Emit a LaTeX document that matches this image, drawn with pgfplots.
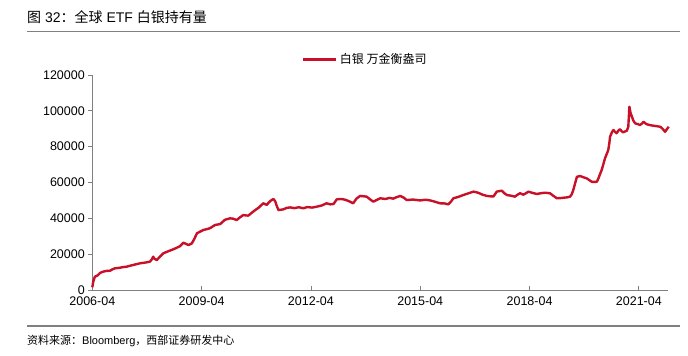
\documentclass[border=0pt]{standalone}
\usepackage{pgfplots}
\pgfplotsset{compat=1.18}
\usepackage{fontspec}
\setmainfont{Liberation Sans}
\newfontfamily\cjk{Noto Sans CJK SC}
\definecolor{silverred}{RGB}{200,16,40}
\definecolor{axgray}{RGB}{128,128,128}
\begin{document}
\begin{tikzpicture}[x=1bp,y=1bp]
\useasboundingbox (0,0) rectangle (688,355);
\node[anchor=base west, inner sep=0, font=\fontsize{14bp}{16bp}\selectfont] at (27,333) {{\cjk 图} 32{\cjk ：全球} ETF {\cjk 白银持有量}};
\draw[axgray, line width=1.2bp] (27,323.5) -- (680,323.5);
\draw[axgray, line width=1.2bp] (27,29) -- (680,29);
\node[anchor=base west, inner sep=0, font=\fontsize{11bp}{13bp}\selectfont] at (27,11) {{\cjk 资料来源：}Bloomberg{\cjk ，西部证券研发中心}};
\begin{axis}[
  at={(92.3bp,65bp)}, anchor=south west,
  width=575.7bp, height=215bp, scale only axis,
  xmin=2006.25, xmax=2022.05, ymin=0, ymax=120000,
  axis x line*=bottom, axis y line*=left,
  axis line style={axgray, line width=0.8bp},
  xtick={2006.25,2009.25,2012.25,2015.25,2018.25,2021.25},
  xticklabels={2006-04,2009-04,2012-04,2015-04,2018-04,2021-04},
  ytick={0,20000,40000,60000,80000,100000,120000},
  yticklabels={0,20000,40000,60000,80000,100000,120000},
  scaled y ticks=false,
  xtick align=inside, ytick align=outside,
  major tick length=4bp,
  tick style={axgray, line width=0.8bp},
  ticklabel style={font=\fontsize{12.5bp}{15bp}\selectfont, black},
  xticklabel style={yshift=-3bp},
  legend style={at={(0.474,1.074)}, anchor=center, draw=none, fill=none,
    font=\fontsize{12bp}{14bp}\selectfont\cjk},
  legend image code/.code={\draw[#1, line width=3bp] (0bp,0bp) -- (33bp,0bp);},
  clip=false,
]
\addplot[silverred, line width=2.4bp, line join=round] coordinates {
(2006.25,1500) (2006.28,5000) (2006.32,7400) (2006.40,8200) (2006.46,9500) (2006.54,10200)
(2006.62,10600) (2006.74,10800) (2006.80,11500) (2006.87,12100) (2007.00,12400)
(2007.10,12800) (2007.19,13000) (2007.30,13600) (2007.42,14200) (2007.56,14900)
(2007.70,15300) (2007.83,15800) (2007.88,17000) (2007.92,18600) (2007.96,17400) (2008.02,16700)
(2008.10,18500) (2008.20,20500) (2008.33,21600) (2008.47,22700) (2008.56,23500) (2008.66,24500)
(2008.75,26400) (2008.89,25100) (2008.98,26000) (2009.05,28500) (2009.12,31600) (2009.20,32500)
(2009.30,33500) (2009.40,34000) (2009.48,34500) (2009.62,36300) (2009.76,36800) (2009.89,39200)
(2010.03,40000) (2010.12,39800) (2010.21,39000) (2010.30,40500) (2010.39,41800) (2010.53,41500)
(2010.62,43000) (2010.72,44600) (2010.82,46000) (2010.94,48400) (2011.04,47500) (2011.10,49000)
(2011.17,50200) (2011.22,50800) (2011.27,49500) (2011.32,46500) (2011.36,44600) (2011.49,45000)
(2011.58,45800) (2011.68,46100) (2011.80,45700) (2011.92,46200) (2012.04,45600) (2012.15,46300)
(2012.28,46000) (2012.41,46500) (2012.55,47200) (2012.68,48400) (2012.78,47800) (2012.87,48000)
(2012.96,50600) (2013.08,50800) (2013.19,50400) (2013.30,49500) (2013.41,48400) (2013.50,51000)
(2013.60,52500) (2013.70,52300) (2013.78,52100) (2013.88,50500) (2013.96,49300) (2014.05,50200)
(2014.15,51200) (2014.30,50800) (2014.40,51400) (2014.51,51000) (2014.60,51800) (2014.70,52500)
(2014.80,51500) (2014.88,50200) (2015.05,50500) (2015.25,50000) (2015.40,50400) (2015.52,50000)
(2015.65,49300) (2015.79,48400) (2015.92,48300) (2016.02,47800) (2016.10,49500) (2016.16,51200)
(2016.30,52000) (2016.43,53000) (2016.58,54000) (2016.71,54900) (2016.78,54600) (2016.85,54200)
(2016.96,53200) (2017.08,52500) (2017.17,52300) (2017.26,52200) (2017.35,54900) (2017.42,55200)
(2017.49,55400) (2017.56,54000) (2017.63,53000) (2017.75,52600) (2017.85,52100) (2017.92,53200)
(2017.99,54000) (2018.08,53200) (2018.15,54000) (2018.22,54900) (2018.33,54200) (2018.45,53600)
(2018.56,54000) (2018.68,54300) (2018.81,54000) (2018.90,52600) (2019.00,51200) (2019.10,51300)
(2019.18,51500) (2019.28,51700) (2019.36,52100) (2019.41,53500) (2019.45,55800) (2019.50,59500)
(2019.55,63200) (2019.64,63600) (2019.73,62900) (2019.82,62300) (2019.90,61200) (2019.96,60400)
(2020.05,60300) (2020.10,60500) (2020.14,62300) (2020.19,65000) (2020.23,67000) (2020.28,70500)
(2020.32,73500) (2020.37,76000) (2020.41,78100) (2020.44,82000) (2020.46,85600) (2020.51,88000)
(2020.55,89300) (2020.60,88200) (2020.64,87500) (2020.69,89000) (2020.73,89700) (2020.78,88600)
(2020.82,88000) (2020.87,88500) (2020.92,88900) (2020.96,91100) (2020.99,102300) (2021.02,99000)
(2021.06,96700) (2021.10,94500) (2021.15,93000) (2021.22,92600) (2021.28,92100) (2021.33,92800)
(2021.38,93900) (2021.43,93000) (2021.47,92500) (2021.56,92000) (2021.65,91700) (2021.75,91400)
(2021.84,91100) (2021.90,90000) (2021.97,88300) (2022.02,89800) (2022.07,91100)
};
\addlegendentry{白银 万金衡盎司}
\end{axis}
\end{tikzpicture}
\end{document}
